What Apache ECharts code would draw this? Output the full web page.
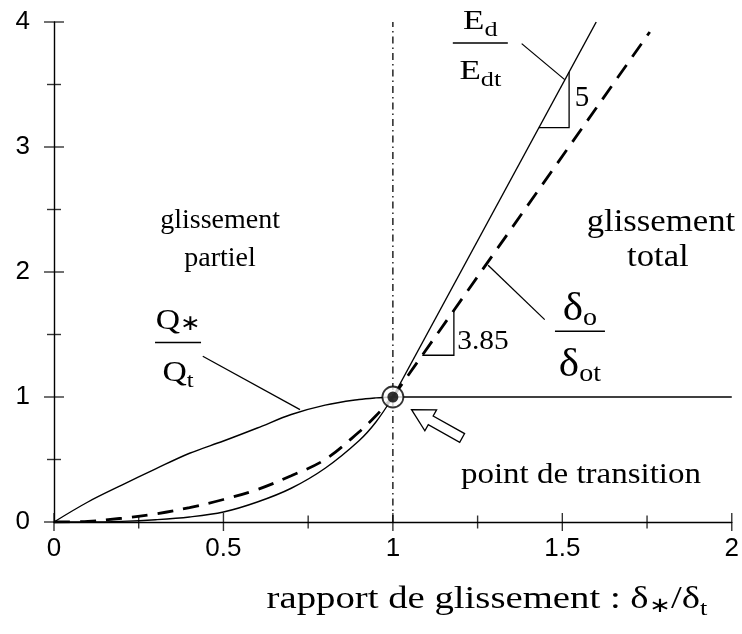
<!DOCTYPE html>
<html>
<head>
<meta charset="utf-8">
<script src="https://cdn.jsdelivr.net/npm/echarts@6/dist/echarts.min.js"></script>
<style>html,body{margin:0;padding:0;background:#fff;}</style>
</head>
<body>
<div id="main" style="width:742px;height:634px;"></div>
<script>
// valeurs
var xLow  = [0, 0.1, 0.2, 0.3, 0.4, 0.5, 0.6, 0.7, 0.8, 0.9, 0.95, 1];
var qLow  = [0, 0.16, 0.295, 0.425, 0.55, 0.648, 0.752, 0.86, 0.935, 0.98, 0.993, 1];
var edLow = [0, 0.0, 0.005, 0.018, 0.04, 0.08, 0.16, 0.27, 0.43, 0.65, 0.8, 1];
var dLow  = [0, 0.005, 0.03, 0.065, 0.115, 0.18, 0.26, 0.37, 0.5, 0.72, 0.85, 1];
var qHigh  = [[1, 1], [2, 1]];
var edHigh = [[1, 1], [1.6, 4]];
var dHigh  = [[1, 1], [1.758, 3.92]];
var transition = [[1, 1]];
var xTickLabels = ['0', '0.5', '1', '1.5', '2'];
var yTickLabels = ['0', '1', '2', '3', '4'];
var xMajor = [0, 0.5, 1, 1.5, 2];
var xMinor = [0.25, 0.75, 1.25, 1.75];
var yMajor = [0, 1, 2, 3, 4];
var yMinor = [0.5, 1.5, 2.5, 3.5];

var SERIF = '"Liberation Serif", "Times New Roman", serif';
var SANS = '"Liberation Sans", Arial, sans-serif';

function pairs(xs, ys) {
    return xs.map(function (x, i) { return [x, ys[i]]; });
}

var chart = echarts.init(document.getElementById('main'));

var black = { color: '#000', width: 1.4 };

// graduations croisées (de part et d'autre de l'axe) : symboles rectangulaires
function ticks(data, size) {
    return {
        type: 'scatter', data: data, symbol: 'rect', symbolSize: size, clip: false,
        silent: true, z: 4, itemStyle: { color: '#000' }
    };
}

function curve(data, dashed, smooth) {
    return {
        type: 'line', data: data, showSymbol: false, smooth: smooth ? 0.35 : false,
        lineStyle: dashed
            ? { color: '#000', width: 2.8, type: [16, 10] }
            : { color: '#000', width: 1.4 },
        silent: true, z: 3
    };
}

chart.setOption({
    animation: false,
    backgroundColor: '#fff',
    grid: { left: 54, right: 10, top: 22, bottom: 112 },
    xAxis: {
        type: 'value', min: 0, max: 2, interval: 0.5,
        axisLine: { onZero: false, lineStyle: black },
        axisTick: { show: false },
        splitLine: { show: false },
        axisLabel: {
            margin: 14, color: '#000', fontFamily: SANS, fontSize: 26,
            formatter: function (v) { return xTickLabels[Math.round(v / 0.5)]; }
        }
    },
    yAxis: {
        type: 'value', min: 0, max: 4, interval: 1,
        axisLine: { onZero: false, lineStyle: black },
        axisTick: { show: false },
        splitLine: { show: false },
        axisLabel: {
            margin: 24, color: '#000', fontFamily: SANS, fontSize: 26,
            formatter: function (v) { return yTickLabels[Math.round(v)]; }
        }
    },
    series: [
        {
            type: 'line', data: [[1, 0], [1, 4]], showSymbol: false, silent: true, z: 2,
            lineStyle: { color: '#000', width: 1.3, type: [7, 4, 1.5, 4] }
        },
        curve(pairs(xLow, qLow), false, true),
        curve(qHigh, false, false),
        curve(pairs(xLow, edLow), false, true),
        curve(edHigh, false, false),
        curve(pairs(xLow, dLow), true, true),
        curve(dHigh, true, false),
        ticks(xMajor.map(function (v) { return [v, 0]; }), [1.4, 18]),
        ticks(xMinor.map(function (v) { return [v, 0]; }), [1.4, 13]),
        ticks(yMajor.map(function (v) { return [0, v]; }), [20, 1.4]),
        ticks(yMinor.map(function (v) { return [0, v]; }), [14, 1.4]),
        {
            type: 'scatter', data: transition, symbol: 'circle', symbolSize: 21, z: 5, silent: true,
            itemStyle: { color: '#fff', borderColor: '#000', borderWidth: 1.8 }
        },
        {
            type: 'scatter', data: transition, symbol: 'circle', symbolSize: 11, z: 6, silent: true,
            itemStyle: { color: '#000' }
        }
    ]
});

// annotations
function px(p) { return chart.convertToPixel({ gridIndex: 0 }, p); }

var ctx = document.createElement('canvas').getContext('2d');
function runs(x, y, parts, align, sx) {
    sx = sx || 1;
    var w = 0;
    parts.forEach(function (p) {
        ctx.font = p[1] + 'px ' + SERIF;
        p.w = ctx.measureText(p[0]).width * sx;
        w += p.w;
    });
    var cx = align === 'center' ? x - w / 2 : x;
    return parts.map(function (p) {
        var el = {
            type: 'text', x: cx, y: y + (p[2] || 0), z: 10, scaleX: sx,
            style: { text: p[0], font: p[1] + 'px ' + SERIF, fill: '#000', verticalAlign: 'middle', align: 'left' }
        };
        cx += p.w;
        return el;
    });
}
function fraction(at, barW, num, den, numDy, denDy, sx) {
    var c = px(at);
    var els = [{
        type: 'line', z: 10,
        shape: { x1: c[0] - barW / 2, y1: c[1], x2: c[0] + barW / 2, y2: c[1] },
        style: { stroke: '#000', lineWidth: 1.3 }
    }];
    return els.concat(runs(c[0], c[1] + numDy, num, 'center', sx), runs(c[0], c[1] + denDy, den, 'center', sx));
}
function seg(a, b) {
    var p = px(a), q = px(b);
    return { type: 'line', z: 10, shape: { x1: p[0], y1: p[1], x2: q[0], y2: q[1] }, style: { stroke: '#000', lineWidth: 1.3 } };
}
function poly(pts) {
    return { type: 'polyline', z: 10, shape: { points: pts.map(px) }, style: { stroke: '#000', lineWidth: 1.3, fill: null } };
}
function label(at, text, size, align, sx) {
    var c = px(at);
    return runs(c[0], c[1], [[text, size]], align || 'center', sx);
}

// flèche creuse vers le point de transition
var tip = px([1.055, 0.899]);
var ang = Math.atan2(28.7, 51.3);
var arrowLocal = [[0, 0], [22, -12], [22, -5], [58, -5], [58, 5], [22, 5], [22, 12]];
var arrowPts = arrowLocal.map(function (p) {
    return [tip[0] + p[0] * Math.cos(ang) - p[1] * Math.sin(ang),
            tip[1] + p[0] * Math.sin(ang) + p[1] * Math.cos(ang)];
});

var g = [];
g = g.concat(label([0.49, 2.41], 'glissement', 28));
g = g.concat(label([0.49, 2.11], 'partiel', 28));
g = g.concat(label([1.791, 2.39], 'glissement', 31, 'center', 1.12));
g = g.concat(label([1.782, 2.11], 'total', 31, 'center', 1.12));
g = g.concat(label([1.555, 0.374], 'point de transition', 30, 'center', 1.1));

g = g.concat(fraction([0.366, 1.436], 46, [['Q', 30], ['∗', 22, 3]], [['Q', 30], ['t', 22, 8]], -21, 31, 1.12));
g = g.concat(fraction([1.258, 3.832], 55, [['E', 28], ['d', 21, 8]], [['E', 28], ['dt', 21, 8]], -21, 29, 1.25));
g = g.concat(fraction([1.552, 1.526], 50, [['δ', 40], ['o', 26, 9]], [['δ', 40], ['ot', 26, 9]], -22, 34, 1.08));

g.push(seg([0.439, 1.326], [0.726, 0.899]));
g.push(seg([1.380, 3.827], [1.507, 3.539]));
g.push(seg([1.281, 2.054], [1.448, 1.619]));

g.push(poly([[1.431, 3.155], [1.52, 3.155], [1.52, 3.6]]));
g = g.concat(label([1.537, 3.385], '5', 29, 'left'));
g.push(poly([[1.0867, 1.334], [1.18, 1.334], [1.18, 1.693]]));
g = g.concat(label([1.19, 1.446], '3.85', 28, 'left', 1.05));

g.push({
    type: 'polygon', z: 10, shape: { points: arrowPts },
    style: { fill: '#fff', stroke: '#000', lineWidth: 1.3 }
});

// titre de l'axe x
g = g.concat(runs(487, 600, [['rapport de glissement : δ', 31], ['∗', 21, 6], ['/δ', 31], ['t', 21, 9]], 'center', 1.25));

chart.setOption({ graphic: { elements: g } });
</script>
</body>
</html>
